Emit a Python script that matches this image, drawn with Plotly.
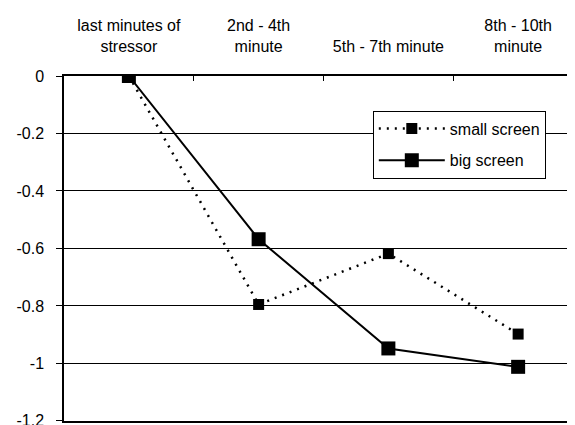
import plotly.graph_objects as go

categories = ["last minutes of<br>stressor", "2nd - 4th<br>minute", "5th - 7th minute", "8th - 10th<br>minute"]
small_screen = [0, -0.795, -0.618, -0.898]
big_screen = [0, -0.568, -0.948, -1.012]
y_tick_vals = [0, -0.2, -0.4, -0.6, -0.8, -1.0, -1.2]
y_tick_labels = ["0", "-0.2", "-0.4", "-0.6", "-0.8", "-1", "-1.2"]

FONT = "Liberation Sans, Arial, sans-serif"

fig = go.Figure()
fig.add_trace(go.Scatter(
    x=categories, y=small_screen, name="small screen", mode="lines+markers",
    line=dict(color="black", width=2.5, dash="2px,6px"),
    marker=dict(symbol="square", size=11, color="black"),
    legendgroup="a",
))
fig.add_trace(go.Scatter(
    x=categories, y=big_screen, name="big screen", mode="lines+markers",
    line=dict(color="black", width=2),
    marker=dict(symbol="square", size=14, color="black"),
    legendgroup="b",
))

fig.update_layout(
    width=575, height=425,
    margin=dict(l=56, r=0, t=68, b=12),
    paper_bgcolor="white", plot_bgcolor="white",
    font=dict(family=FONT, size=16, color="black"),
    showlegend=True,
    legend=dict(
        x=0.595, y=0.9, xanchor="left", yanchor="top",
        bgcolor="white", bordercolor="black", borderwidth=1,
        font=dict(family=FONT, size=16, color="black"),
        tracegroupgap=8, traceorder="grouped", itemwidth=66,
    ),
    xaxis=dict(
        type="category", categoryorder="array", categoryarray=categories,
        side="top", range=[-0.5, 3.5], automargin=False,
        showgrid=False, zeroline=False,
        showline=True, linecolor="black", linewidth=1.5, mirror=True,
        ticks="inside", ticklen=5, tickcolor="black", tickson="boundaries",
        ticklabelstandoff=16,
    ),
    yaxis=dict(
        range=[-1.2005, 0], tickvals=y_tick_vals, ticktext=y_tick_labels,
        automargin=False,
        showgrid=True, gridcolor="black", gridwidth=1,
        zeroline=False,
        showline=True, linecolor="black", linewidth=1.5,
        ticks="outside", ticklen=6, tickcolor="black",
        ticklabelstandoff=9,
    ),
)

fig.write_html("out.html")
